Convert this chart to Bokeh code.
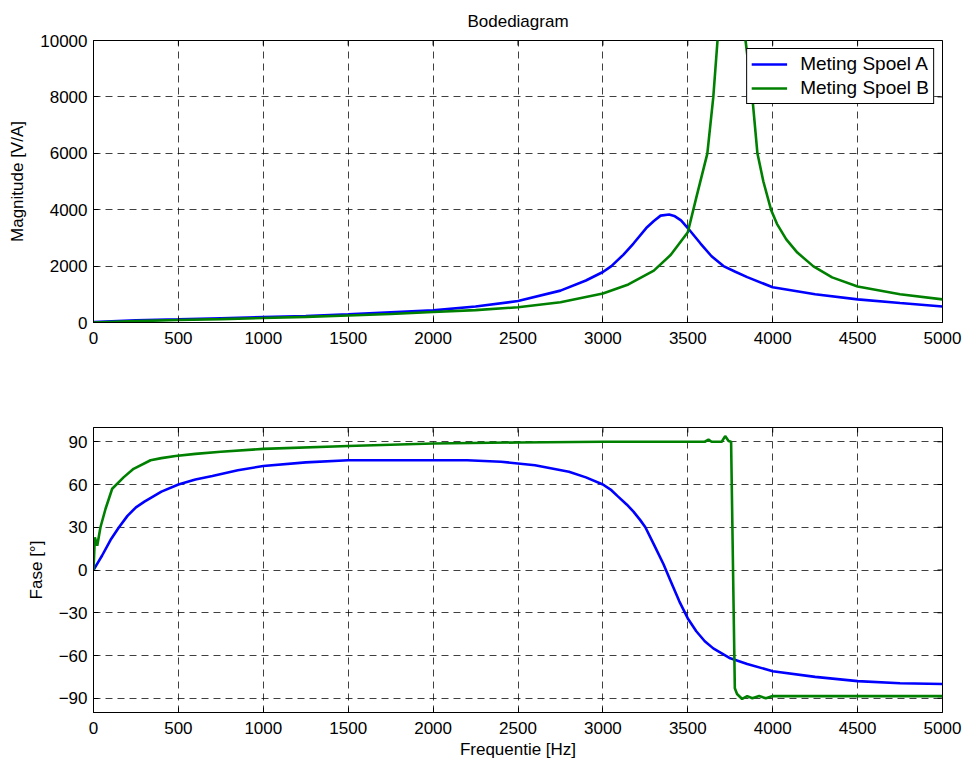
import math

from bokeh.plotting import figure
from bokeh.models import FixedTicker, Legend, LegendItem, Range1d
from bokeh.layouts import column
from bokeh.embed import file_html
from bokeh.resources import INLINE

# Measured frequency response of two coils (Spoel A / Spoel B)
freq_mag_a = [0, 250, 500, 750, 1000, 1250, 1500, 1750, 2000, 2250, 2500, 2750, 2900, 3000,
              3050, 3120, 3180, 3260, 3300, 3340, 3390, 3420, 3460, 3500, 3575, 3640, 3710,
              3780, 3850, 4000, 4250, 4500, 4750, 5000]
mag_a = [20, 80, 110, 150, 190, 230, 290, 360, 430, 570, 760, 1130, 1490, 1790,
         2000, 2400, 2800, 3380, 3600, 3790, 3830, 3780, 3620, 3350, 2800, 2350, 2000,
         1800, 1610, 1250, 1000, 820, 690, 570]

freq_mag_b = [0, 250, 500, 750, 1000, 1250, 1500, 1750, 2000, 2250, 2500, 2750, 3000, 3150,
              3300, 3400, 3500, 3550, 3615, 3650, 3675, 3700, 3750, 3800, 3840, 3880, 3910,
              3945, 3990, 4025, 4080, 4145, 4240, 4350, 4500, 4750, 5000]
mag_b = [0, 50, 90, 120, 160, 200, 250, 300, 370, 440, 540, 720, 1030, 1350,
         1840, 2400, 3200, 4430, 5990, 7980, 10000, 14000, 20000, 15000, 10000, 7990, 6000,
         5000, 4000, 3500, 2950, 2480, 1990, 1600, 1280, 1000, 820]

freq_ph_a = [0, 25, 50, 100, 150, 200, 250, 300, 400, 500, 600, 700, 850, 1000, 1250, 1500,
             2000, 2200, 2400, 2600, 2800, 2900, 3000, 3050, 3085, 3140, 3180, 3220, 3250,
             3300, 3357, 3400, 3450, 3500, 3550, 3600, 3650, 3750, 3850, 4000, 4250, 4500,
             4750, 5000]
phase_a = [0, 5, 10, 21, 30, 38, 44, 48, 55, 60, 63.5, 66, 70, 73, 75.5, 77,
           77, 77, 76, 73.5, 69, 65, 60, 56, 52, 46, 41, 35, 30,
           18, 4, -8, -22, -34, -43, -50, -55, -62, -66, -71, -75, -78,
           -79.5, -80]

freq_ph_b = [0, 8, 22, 41, 71, 110, 177, 236, 336, 400, 483, 600, 750, 1000, 1500, 2000,
             2500, 3000, 3600, 3622, 3640, 3700, 3720, 3740, 3755, 3777, 3790, 3820, 3850,
             3880, 3920, 3960, 4000, 5000]
phase_b = [0, 23, 17, 30, 43, 57, 65, 71, 77, 78.5, 80, 81.5, 83, 85, 87, 88.8,
           89.5, 90, 90, 91.5, 90, 90, 94, 90.5, 90, -83, -87, -90.5, -88.5,
           -90, -88.5, -90, -88.5, -88.5]

x_ticks = [0, 500, 1000, 1500, 2000, 2500, 3000, 3500, 4000, 4500, 5000]
mag_ticks = [0, 2000, 4000, 6000, 8000, 10000]
phase_ticks = [-90, -60, -30, 0, 30, 60, 90]
x_limits = (0, 5000)
mag_limits = (0, 10000)
phase_limits = (-100, 100)

FONT = "Liberation Sans"
FS = "17px"
BLUE = "#0000ff"
GREEN = "#008000"
LW = 2.6


def make_axes(p, yticks, ylimits):
    for ax in p.axis:
        ax.axis_line_color = "black"
        ax.major_tick_in = 5
        ax.major_tick_out = 0
        ax.minor_tick_line_color = None
        ax.major_label_text_font = FONT
        ax.major_label_text_font_size = FS
        ax.major_label_text_color = "black"
        ax.axis_label_text_font = FONT
        ax.axis_label_text_font_size = FS
        ax.axis_label_text_font_style = "normal"
        ax.axis_label_text_color = "black"
    p.xaxis.ticker = FixedTicker(ticks=x_ticks)
    p.yaxis.ticker = FixedTicker(ticks=yticks)
    p.xaxis.major_label_standoff = 9
    p.yaxis.major_label_standoff = 6
    p.yaxis.axis_label_standoff = 10
    p.xaxis.axis_label_standoff = 3
    # mirrored tick marks along the top and right edges (half of each dash is clipped)
    p.scatter(x_ticks, [ylimits[1]] * len(x_ticks), marker="dash", size=10,
              angle=math.pi / 2, line_color="black", line_width=1)
    p.scatter([x_limits[1]] * len(yticks), yticks, marker="dash", size=10,
              line_color="black", line_width=1)
    p.xgrid.ticker = FixedTicker(ticks=x_ticks)
    p.ygrid.ticker = FixedTicker(ticks=yticks)
    p.grid.grid_line_color = "black"
    p.grid.grid_line_alpha = 0.75
    p.grid.grid_line_dash = "7 5"
    p.grid.grid_line_width = 1
    p.outline_line_color = "black"
    p.outline_line_width = 1
    p.background_fill_color = "white"
    p.border_fill_color = "white"


top = figure(frame_width=849, frame_height=282, output_backend="svg", toolbar_location=None,
             x_range=Range1d(*x_limits), y_range=Range1d(*mag_limits),
             min_border_left=93, min_border_right=24, min_border_top=40, min_border_bottom=58,
             title="Bodediagram")
top.title.align = "center"
top.title.text_font = FONT
top.title.text_font_size = FS
top.title.text_font_style = "normal"
top.title.text_color = "black"
top.title.standoff = 19
top.yaxis.axis_label = "Magnitude [V/A]"
make_axes(top, mag_ticks, mag_limits)

ra = top.line(freq_mag_a, mag_a, line_color=BLUE, line_width=LW)
rb = top.line(freq_mag_b, mag_b, line_color=GREEN, line_width=LW)

legend = Legend(items=[LegendItem(label="Meting Spoel A", renderers=[ra]),
                       LegendItem(label="Meting Spoel B", renderers=[rb])],
                location="top_right", margin=8, padding=4, spacing=2,
                glyph_width=36, glyph_height=20, label_height=20, label_standoff=13,
                label_text_font=FONT, label_text_font_size="19px", label_text_color="black",
                border_line_color="black", border_line_width=1, border_line_alpha=1,
                background_fill_color="white", background_fill_alpha=1)
top.add_layout(legend)

bottom = figure(frame_width=849, frame_height=285, output_backend="svg", toolbar_location=None,
                x_range=Range1d(*x_limits), y_range=Range1d(*phase_limits),
                min_border_left=93, min_border_right=24, min_border_top=47, min_border_bottom=52)
bottom.xaxis.axis_label = "Frequentie [Hz]"
bottom.yaxis.axis_label = "Fase [°]"
make_axes(bottom, phase_ticks, phase_limits)

bottom.line(freq_ph_a, phase_a, line_color=BLUE, line_width=LW)
bottom.line(freq_ph_b, phase_b, line_color=GREEN, line_width=LW)

layout = column(top, bottom, spacing=0)
open("out.html", "w").write(file_html(layout, INLINE))
